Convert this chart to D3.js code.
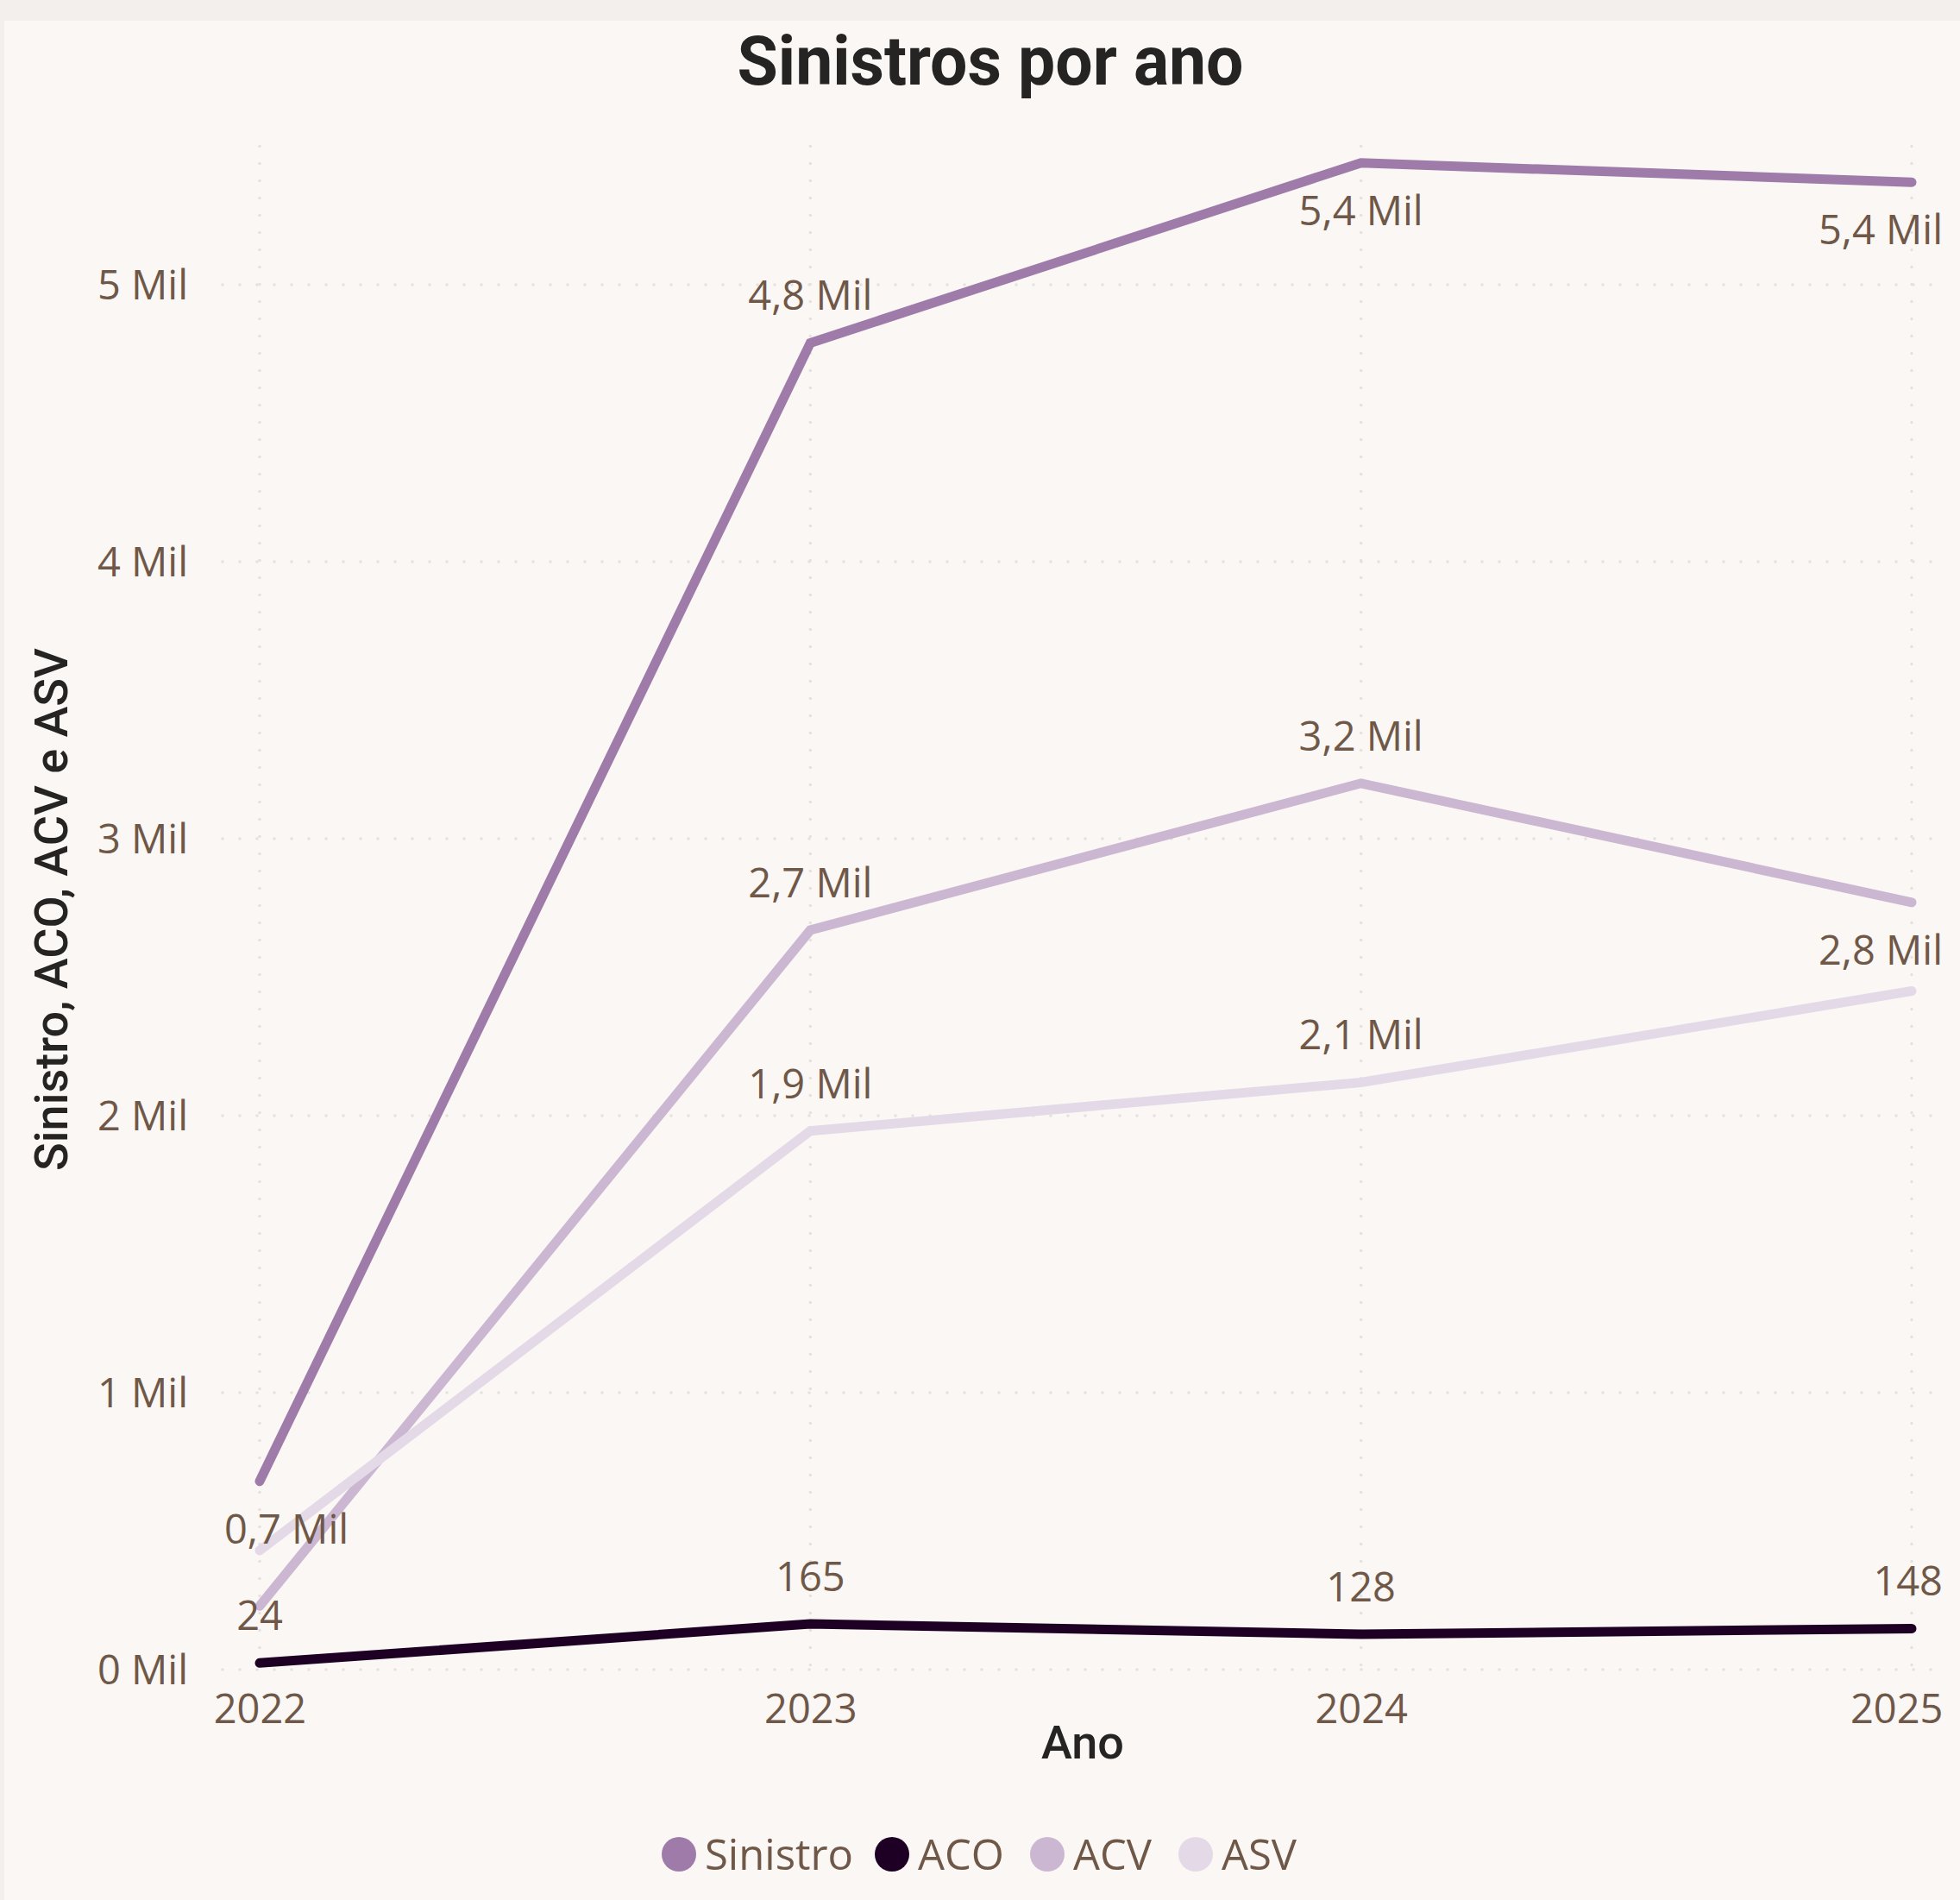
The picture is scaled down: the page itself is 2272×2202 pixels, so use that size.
<!DOCTYPE html>
<html lang="pt">
<head>
  <meta charset="UTF-8">
  <title>Sinistros por ano</title>
  <style>
    body { margin: 0; background: #FAF7F5; }
    svg { display: block; }
    .tick-label, .data-label, .legend-label {
      font-family: "Segoe UI", "Open Sans", sans-serif;
      fill: #6F5848;
    }
  </style>
</head>
<body>
  <svg width="2272" height="2202"></svg>
  <script src="https://cdn.jsdelivr.net/npm/d3@7"></script>
  <script>
    // dados
    var anos = ['2022', '2023', '2024', '2025']
    var sinistro = [680, 4790, 5440, 5370]
    var aco = [24, 165, 128, 148]
    var acv = [230, 2670, 3200, 2770]
    var asv = [430, 1945, 2120, 2450]
    var yTicks = [0, 1000, 2000, 3000, 4000, 5000]
    var seriesNames = ['Sinistro', 'ACO', 'ACV', 'ASV']
    var seriesColors = ['#9E7BA8', '#1E0025', '#CBB7D2', '#E4DAE7']
    // onde vai o rótulo de cada ponto (null = sem rótulo)
    var labelPos = [
      ['below', 'above', 'below', 'below'],
      ['above', 'above', 'above', 'above'],
      [null, 'above', 'above', 'below'],
      [null, 'above', 'above', null]
    ]
    var unitMil = [true, false, true, true]

    var series = [sinistro, aco, acv, asv].map(function(vals, i) {
      return {
        name: seriesNames[i],
        color: seriesColors[i],
        mil: unitMil[i],
        points: vals.map(function(v, j) {
          return { ano: anos[j], value: v, pos: labelPos[i][j] }
        })
      }
    })

    var svg = d3.select('svg')

    svg.append('rect')
      .attr('width', 2272).attr('height', 24)
      .attr('fill', '#F3EFEC')
    svg.append('rect')
      .attr('y', 24).attr('width', 5).attr('height', 2178)
      .attr('fill', '#F3EFEC')

    var x = d3.scalePoint().domain(anos).range([301, 2216])
    var y = d3.scaleLinear().domain([0, 5500]).range([1935, 169.5])

    // grades
    var grid = svg.append('g')
    grid.selectAll('.hgrid')
      .data(yTicks)
      .enter()
      .append('line')
      .attr('x1', 258).attr('x2', 2242)
      .attr('y1', function(d) { return y(d) })
      .attr('y2', function(d) { return y(d) })
    grid.selectAll('.vgrid')
      .data(anos)
      .enter()
      .append('line')
      .attr('x1', function(d) { return x(d) })
      .attr('x2', function(d) { return x(d) })
      .attr('y1', y(5500)).attr('y2', 1935)
    grid.selectAll('line')
      .attr('stroke', '#E6E1DD')
      .attr('stroke-width', 3.5)
      .attr('stroke-linecap', 'round')
      .attr('stroke-dasharray', '0,20')

    // eixo y
    var yAxis = svg.append('g')
      .attr('transform', 'translate(218,0)')
      .call(d3.axisLeft(y).tickValues(yTicks).tickSize(0).tickPadding(0)
        .tickFormat(function(d) { return (d / 1000) + ' Mil' }))
    yAxis.select('.domain').remove()
    yAxis.selectAll('text')
      .attr('class', 'tick-label')
      .attr('font-size', 47)
      .attr('dy', '0.36em')

    // eixo x
    var xAxis = svg.append('g')
      .attr('transform', 'translate(0,1997)')
      .call(d3.axisBottom(x).tickSize(0).tickPadding(0))
    xAxis.select('.domain').remove()
    xAxis.selectAll('text')
      .attr('class', 'tick-label')
      .attr('font-size', 47)
      .attr('dy', 0)
      .attr('y', 0)
    xAxis.selectAll('.tick').filter(function(d) { return d === '2025' })
      .select('text').attr('text-anchor', 'end').attr('x', 36)

    // linhas
    var line = d3.line()
      .x(function(d) { return x(d.ano) })
      .y(function(d) { return y(d.value) })

    svg.append('g').selectAll('path')
      .data(series)
      .enter()
      .append('path')
      .attr('d', function(d) { return line(d.points) })
      .attr('fill', 'none')
      .attr('stroke', function(d) { return d.color })
      .attr('stroke-width', 11)
      .attr('stroke-linecap', 'round')
      .attr('stroke-linejoin', 'miter')

    // rótulos
    function fmt(v, mil) {
      if (!mil) return String(v)
      return (Math.round(v / 100) / 10).toFixed(1).replace('.', ',') + ' Mil'
    }
    var labels = svg.append('g')
    series.forEach(function(s) {
      s.points.forEach(function(p) {
        if (!p.pos) return
        var py = y(p.value)
        var t = labels.append('text')
          .attr('class', 'data-label')
          .attr('font-size', 47)
          .attr('text-anchor', 'middle')
          .attr('x', x(p.ano))
          .attr('y', p.pos === 'above' ? py - 38 : py + 72)
          .text(fmt(p.value, s.mil))
        var w = t.node().getComputedTextLength()
        var cx = x(p.ano)
        if (cx - w / 2 < 260) cx = 260 + w / 2
        if (cx + w / 2 > 2252) cx = 2252 - w / 2
        t.attr('x', cx)
      })
    })

    // títulos
    svg.append('text')
      .attr('x', 1148).attr('y', 98)
      .attr('text-anchor', 'middle')
      .attr('font-family', 'Roboto, sans-serif')
      .attr('font-weight', 'bold')
      .attr('font-size', 80)
      .attr('fill', '#252423')
      .attr('textLength', 587)
      .attr('lengthAdjust', 'spacingAndGlyphs')
      .text('Sinistros por ano')

    svg.append('text')
      .attr('x', 1255).attr('y', 2038)
      .attr('text-anchor', 'middle')
      .attr('font-family', 'Roboto, sans-serif')
      .attr('font-weight', 500)
      .attr('font-size', 54)
      .attr('fill', '#252423')
      .text('Ano')

    svg.append('text')
      .attr('transform', 'translate(78,1054) rotate(-90)')
      .attr('text-anchor', 'middle')
      .attr('font-family', 'Roboto, sans-serif')
      .attr('font-weight', 500)
      .attr('font-size', 54)
      .attr('fill', '#252423')
      .text('Sinistro, ACO, ACV e ASV')

    // legenda
    var legendX = [787, 1034, 1214, 1386]
    var legend = svg.append('g').selectAll('g')
      .data(series)
      .enter()
      .append('g')
      .attr('transform', function(d, i) { return 'translate(' + legendX[i] + ',2149)' })
    legend.append('circle')
      .attr('r', 20)
      .attr('fill', function(d) { return d.color })
    legend.append('text')
      .attr('class', 'legend-label')
      .attr('x', 30).attr('y', 18)
      .attr('font-size', 49)
      .text(function(d) { return d.name })
  </script>
</body>
</html>
